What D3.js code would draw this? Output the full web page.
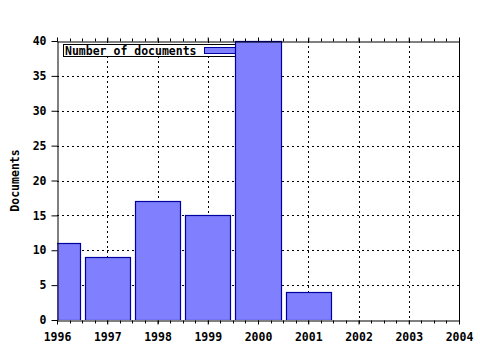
<!DOCTYPE html>
<html>
<head>
<meta charset="utf-8">
<script src="https://cdn.jsdelivr.net/npm/d3@7"></script>
<style>
  body { margin: 0; background: #fff; }
  text { font-family: "DejaVu Sans Mono", monospace; font-weight: bold; font-size: 11.5px; }
</style>
</head>
<body>
<div id="chart"></div>
<script>
// Dane
const years = [1996, 1997, 1998, 1999, 2000, 2001];
const documents = [11, 9, 17, 15, 40, 4];
const xTicks = [1996, 1997, 1998, 1999, 2000, 2001, 2002, 2003, 2004];
const yTicks = [0, 5, 10, 15, 20, 25, 30, 35, 40];
const seriesName = "Number of documents";

const W = 480, H = 350;
const plotLeft = 57, plotRight = 459, plotTop = 41, plotBottom = 320;

const svg = d3.select("#chart").append("svg")
  .attr("width", W).attr("height", H);

svg.append("rect").attr("width", W).attr("height", H).attr("fill", "#fff");

const x = d3.scaleLinear().domain([1996, 2004]).range([plotLeft, plotRight]);
const y = d3.scaleLinear().domain([0, 40]).range([plotBottom, plotTop]);

// Siatka
const grid = svg.append("g").attr("stroke", "#000").attr("stroke-width", 1)
  .attr("stroke-dasharray", "2,3");
xTicks.slice(1, -1).forEach(t => {
  grid.append("line")
    .attr("x1", Math.round(x(t)) + 0.5).attr("x2", Math.round(x(t)) + 0.5)
    .attr("y1", plotTop).attr("y2", plotBottom);
});
yTicks.slice(1, -1).forEach(t => {
  grid.append("line")
    .attr("x1", plotLeft).attr("x2", plotRight)
    .attr("y1", Math.round(y(t)) + 0.5).attr("y2", Math.round(y(t)) + 0.5);
});

// Legenda (pod słupkami)
const legend = svg.append("g");
legend.append("rect")
  .attr("x", 63.5).attr("y", 44.5).attr("width", 180).attr("height", 12)
  .attr("fill", "#fff").attr("stroke", "#000");
legend.append("text")
  .attr("x", 65).attr("y", 54.5).text(seriesName);
legend.append("rect")
  .attr("x", 204.5).attr("y", 47.5).attr("width", 36).attr("height", 6)
  .attr("fill", "#8080ff").attr("stroke", "#0000a0");

// Słupki
svg.append("clipPath").attr("id", "plot-clip")
  .append("rect").attr("x", plotLeft).attr("y", plotTop - 1)
  .attr("width", plotRight - plotLeft).attr("height", plotBottom - plotTop + 1);

svg.append("g").attr("clip-path", "url(#plot-clip)")
  .selectAll("rect")
  .data(years)
  .join("rect")
  .attr("x", (d) => Math.round(x(d - 0.45)) + 0.5)
  .attr("width", (d) => Math.round(x(d + 0.45)) - Math.round(x(d - 0.45)))
  .attr("y", (d, i) => Math.round(y(documents[i])) + 0.5)
  .attr("height", (d, i) => Math.round(y(0)) - Math.round(y(documents[i])))
  .attr("fill", "#8080ff")
  .attr("stroke", "#0000a0")
  .attr("stroke-width", 1.2);

// Osie
const minor = d3.range(1996, 2004.001, 0.25);
const axisBottom = d3.axisBottom(x).tickValues(xTicks).tickFormat(d3.format("d"))
  .tickSizeInner(4).tickSizeOuter(0).tickPadding(8);
const gx = svg.append("g").attr("transform", `translate(0,${plotBottom + 0.5})`).call(axisBottom);
gx.selectAll(".tick text").attr("fill", "#000").style("font-size", "11.5px");

const axisTop = d3.axisTop(x).tickValues(xTicks).tickFormat("").tickSizeInner(4).tickSizeOuter(0);
svg.append("g").attr("transform", `translate(0,${plotTop + 0.5})`).call(axisTop);

[plotBottom + 0.5, plotTop + 0.5].forEach((yy, k) => {
  svg.append("g").selectAll("line").data(minor).join("line")
    .attr("x1", d => Math.round(x(d)) + 0.5).attr("x2", d => Math.round(x(d)) + 0.5)
    .attr("y1", yy).attr("y2", k === 0 ? yy + 3 : yy - 3)
    .attr("stroke", "#000");
});

const axisLeft = d3.axisLeft(y).tickValues(yTicks).tickSizeInner(6).tickSizeOuter(0).tickPadding(5);
const gy = svg.append("g").attr("transform", `translate(${plotLeft + 0.5},0)`).call(axisLeft);
gy.selectAll(".tick text").attr("fill", "#000").style("font-size", "11.5px");

svg.append("line").attr("x1", plotRight + 0.5).attr("x2", plotRight + 0.5)
  .attr("y1", plotTop).attr("y2", plotBottom + 1).attr("stroke", "#000");

svg.selectAll(".domain").attr("stroke", "#000");

// Etykieta osi Y
svg.append("text")
  .attr("transform", `translate(19,${(plotTop + plotBottom) / 2}) rotate(-90)`)
  .attr("text-anchor", "middle")
  .text("Documents");
</script>
</body>
</html>
